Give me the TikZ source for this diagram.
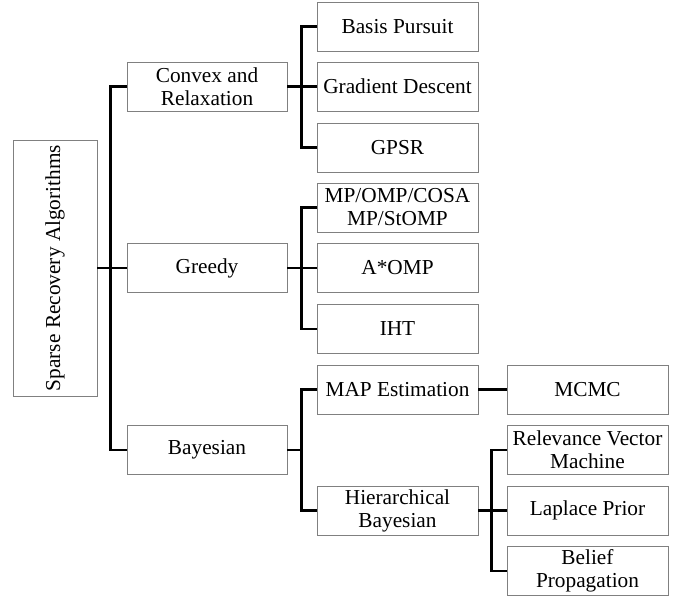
\documentclass[tikz,border=0pt]{standalone}
\usepackage{fontspec}
\setmainfont{Liberation Serif}
\begin{document}
\begin{tikzpicture}[x=1pt,y=-1pt,
  box/.style={draw=black!50,line width=0.9pt,fill=white,minimum width=161pt,minimum height=49pt,
    inner sep=0pt,align=center,font=\fontsize{21.3}{23}\selectfont},
  conn/.style={line width=2.8pt,black}]
\useasboundingbox (0,0) rectangle (687,597);
% root
\node[box,rotate=90,minimum width=256pt,minimum height=84pt] (root) at (55,268) {Sparse Recovery Algorithms};
% level 1
\node[box,minimum width=160pt] (cvx) at (207,86.5) {Convex and\\Relaxation};
\node[box,minimum width=160pt] (gre) at (207,268) {Greedy};
\node[box,minimum width=160pt] (bay) at (207,450) {Bayesian};
% level 2
\node[box] (bp) at (397.5,26.5) {Basis Pursuit};
\node[box] (gd) at (397.5,86.5) {Gradient Descent};
\node[box] (gpsr) at (397.5,147.5) {GPSR};
\node[box] (mp) at (397.5,207.5) {MP/OMP/COSA\\MP/StOMP};
\node[box] (aomp) at (397.5,268) {A*OMP};
\node[box] (iht) at (397.5,329) {IHT};
\node[box] (map) at (397.5,389.5) {MAP Estimation};
\node[box] (hier) at (397.5,510.5) {Hierarchical\\Bayesian};
% level 3
\node[box] (mcmc) at (587.5,389.5) {MCMC};
\node[box] (rvm) at (587.5,450) {Relevance Vector\\Machine};
\node[box] (lap) at (587.5,510.5) {Laplace Prior};
\node[box] (bel) at (587.5,571) {Belief\\Propagation};
% connectors
\draw[conn] (root.south) -- (gre.west);
\draw[conn] (cvx.west) -- ++(-16,0) |- (bay.west);
\draw[conn] (cvx.east) -- (gd.west);
\draw[conn] (bp.west) -- ++(-15,0) |- (gpsr.west);
\draw[conn] (gre.east) -- (aomp.west);
\draw[conn] (mp.west) -- ++(-15,0) |- (iht.west);
\draw[conn] (bay.east) -- ++(15,0);
\draw[conn] (map.west) -- ++(-15,0) |- (hier.west);
\draw[conn] (map.east) -- (mcmc.west);
\draw[conn] (hier.east) -- (lap.west);
\draw[conn] (rvm.west) -- ++(-15,0) |- (bel.west);
\end{tikzpicture}
\end{document}
